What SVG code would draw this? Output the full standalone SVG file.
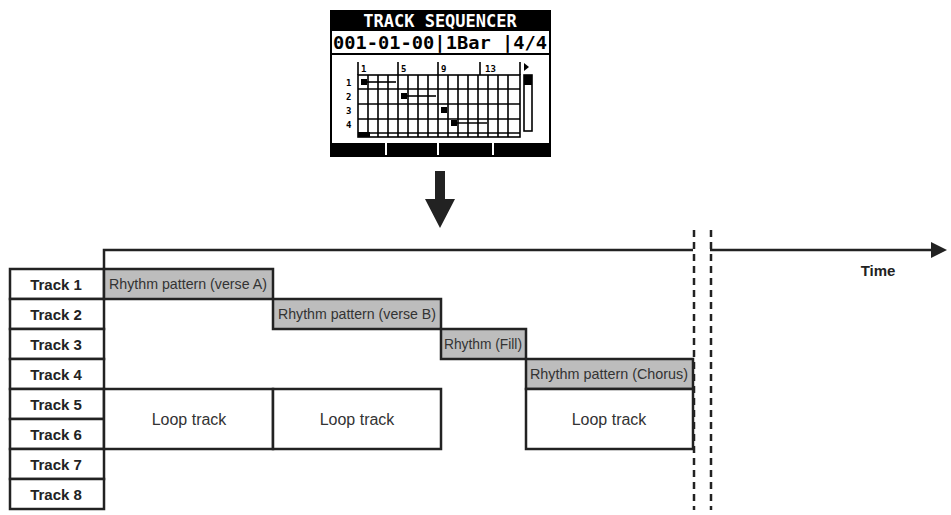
<svg xmlns="http://www.w3.org/2000/svg" width="951" height="515" viewBox="0 0 951 515">
<style>
.tr{fill:#fff;stroke:#222;stroke-width:2.5}
.tl{font-family:"Liberation Sans",Arial,sans-serif;font-weight:bold;font-size:15px;fill:#222;text-anchor:middle}
.rp{fill:#bdbdbd;stroke:#222;stroke-width:2.5}
.lb{font-family:"Liberation Sans",Arial,sans-serif;font-size:15px;fill:#333;text-anchor:middle}
.lp{fill:#fff;stroke:#222;stroke-width:2.5}
.ll{font-family:"Liberation Sans",Arial,sans-serif;font-size:16px;fill:#333;text-anchor:middle}
.lcd{font-family:"DejaVu Sans Mono",monospace;font-weight:bold}
.g{stroke:#000;stroke-width:1.6}
</style>
<defs><marker id="ah" markerWidth="16" markerHeight="16" refX="1" refY="8" orient="auto" markerUnits="userSpaceOnUse"><path d="M0,0 L16,8 L0,16Z" fill="#222"/></marker></defs>
<g id="lcd">
<rect x="330" y="10" width="221" height="147" fill="#000"/>
<text x="440" y="27" class="lcd" font-size="17" fill="#fff" text-anchor="middle">TRACK SEQUENCER</text>
<rect x="332" y="31" width="217" height="22" fill="#fff"/>
<text x="440" y="49" class="lcd" font-size="18" fill="#000" text-anchor="middle" textLength="214" lengthAdjust="spacingAndGlyphs">001-01-00|1Bar |4/4</text>
<rect x="332" y="55" width="217" height="88" fill="#fff"/>
<g class="lcd" font-size="9" fill="#000">
<text x="361" y="72">1</text><text x="401" y="72">5</text><text x="441" y="72">9</text><text x="485" y="72">13</text>
<text x="346" y="86">1</text><text x="346" y="100">2</text><text x="346" y="114">3</text><text x="346" y="128">4</text>
</g>
<path d="M358,62V75M398,62V75M438,62V75M480,62V75M520,62V75" class="g"/>
<path d="M524,63L529,67L524,71Z" fill="#000"/>
<g class="g" fill="none">
<rect x="358" y="75" width="162" height="62"/>
<path d="M358,89H520M358,104H520M358,119H520M358,133H520"/>
<path d="M368,75V137M378,75V137M388,75V137M398,75V137M408,75V137M418,75V137M428,75V137M438,75V137M448,75V137M458,75V137M468,75V137M478,75V137M488,75V137M498,75V137M508,75V137"/>
</g>
<rect x="358" y="132" width="12" height="5" fill="#000"/>
<rect x="361" y="79" width="6" height="6" fill="#000"/><path d="M364,82H396" class="g"/>
<rect x="401" y="93" width="6" height="6" fill="#000"/><path d="M404,96H436" class="g"/>
<rect x="441" y="107" width="6" height="6" fill="#000"/>
<rect x="451" y="120" width="6" height="6" fill="#000"/><path d="M454,123H487" class="g"/>
<rect x="524" y="75" width="8" height="56" fill="#fff" stroke="#000" stroke-width="1.6"/>
<rect x="524" y="75" width="8" height="10" fill="#000"/>
<path d="M386,143V155M438,143V155M493,143V155" stroke="#fff" stroke-width="2"/>
</g>
<g id="down-arrow"><path d="M435,171H445V199H455L440,228L425,199H435Z" fill="#222"/></g>
<g id="connectors">
<path d="M104,269V250H693" fill="none" stroke="#222" stroke-width="2.5"/>
<path d="M710,250H932" fill="none" stroke="#222" stroke-width="2.5" marker-end="url(#ah)"/>
<path d="M694,230V510M711,230V510" stroke="#222" stroke-width="2.5" stroke-dasharray="7,5"/>
</g>
<text x="878" y="276" class="tl">Time</text>
<g id="tracks">
<g id="t1"><rect class="tr" x="10" y="269" width="94" height="30"/><text class="tl" x="56" y="290">Track 1</text></g>
<g id="t2"><rect class="tr" x="10" y="299" width="94" height="30"/><text class="tl" x="56" y="320">Track 2</text></g>
<g id="t3"><rect class="tr" x="10" y="329" width="94" height="30"/><text class="tl" x="56" y="350">Track 3</text></g>
<g id="t4"><rect class="tr" x="10" y="359" width="94" height="30"/><text class="tl" x="56" y="380">Track 4</text></g>
<g id="t5"><rect class="tr" x="10" y="389" width="94" height="30"/><text class="tl" x="56" y="410">Track 5</text></g>
<g id="t6"><rect class="tr" x="10" y="419" width="94" height="30"/><text class="tl" x="56" y="440">Track 6</text></g>
<g id="t7"><rect class="tr" x="10" y="449" width="94" height="30"/><text class="tl" x="56" y="470">Track 7</text></g>
<g id="t8"><rect class="tr" x="10" y="479" width="94" height="30"/><text class="tl" x="56" y="500">Track 8</text></g>
</g>
<g id="va"><rect class="rp" x="104" y="269" width="169" height="30"/><text class="lb" x="188" y="289" textLength="158" lengthAdjust="spacingAndGlyphs">Rhythm pattern (verse A)</text></g>
<g id="vb"><rect class="rp" x="273" y="299" width="168" height="30"/><text class="lb" x="357" y="319" textLength="158" lengthAdjust="spacingAndGlyphs">Rhythm pattern (verse B)</text></g>
<g id="fill"><rect class="rp" x="441" y="329" width="85" height="30"/><text class="lb" x="483" y="349" textLength="78" lengthAdjust="spacingAndGlyphs">Rhythm (Fill)</text></g>
<g id="chorus"><rect class="rp" x="526" y="359" width="167" height="30"/><text class="lb" x="609" y="379" textLength="158" lengthAdjust="spacingAndGlyphs">Rhythm pattern (Chorus)</text></g>
<g id="loop1"><rect class="lp" x="104" y="389" width="169" height="60"/><text class="ll" x="189" y="425">Loop track</text></g>
<g id="loop2"><rect class="lp" x="273" y="389" width="168" height="60"/><text class="ll" x="357" y="425">Loop track</text></g>
<g id="loop3"><rect class="lp" x="526" y="389" width="167" height="60"/><text class="ll" x="609" y="425">Loop track</text></g>
</svg>
